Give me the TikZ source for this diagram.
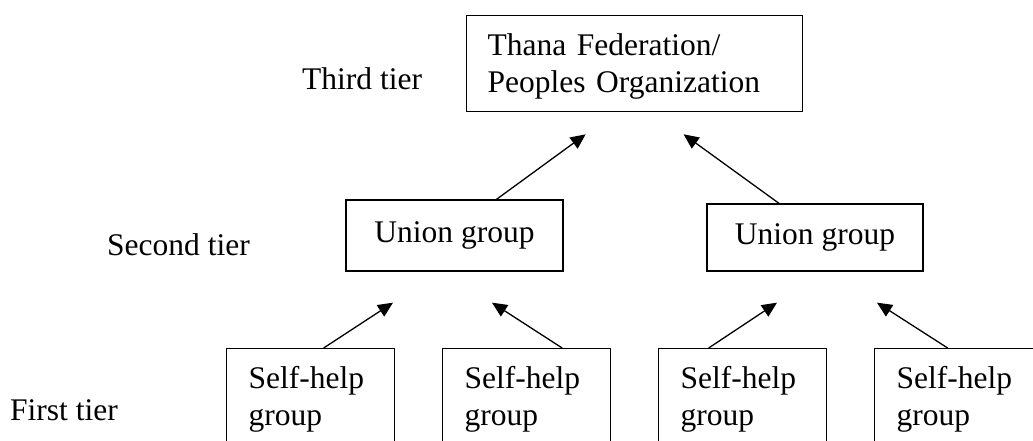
\documentclass[tikz,border=0pt]{standalone}
\usepackage{fontspec}
\setmainfont{Liberation Serif}
\usetikzlibrary{arrows.meta}

\begin{document}
\begin{tikzpicture}[x=1pt, y=-1pt,
		box/.style={draw, line width=1.3pt, inner xsep=21pt, align=left, font=\fontsize{31.5}{37}\selectfont},
		shgroup/.style={box, anchor=north west, text width=124pt, minimum width=168pt, inner xsep=22pt, inner ysep=18pt},
		tier/.style={anchor=base west, inner sep=0pt, font=\fontsize{31.5}{37}\selectfont},
		arr/.style={-{Triangle[length=15pt,width=13.5pt]}, line width=1.3pt}]
		\useasboundingbox (0,0) rectangle (1033,440);
		\clip (0,0) rectangle (1033,440);
		
		% Draw the third tier
		\node (fed) [box, anchor=north west, text width=294pt, minimum height=96pt, text height=27.8pt] at (466,15) {Thana Federation/\\Peoples Organization};
		\node (third) [tier] at (302,89) {Third tier};
		
		% Draw the second tier
		\node (ul) [box, minimum width=217pt, minimum height=71pt] at (454.5,235.5) {Union group};
		\node (ur) [box, minimum width=216pt, minimum height=67pt] at (815,237.5) {Union group};
		\node (second) [tier] at (107,255) {Second tier};
		
		% Draw the first tier
		\node (s1) [shgroup] at (226,348) {Self-help\\group};
		\node (s2) [shgroup] at (442,348) {Self-help\\group};
		\node (s3) [shgroup] at (658,348) {Self-help\\group};
		\node (s4) [shgroup] at (874,348) {Self-help\\group};
		\node (first) [tier] at (10,420) {First tier};
		
		% Connect the tiers with arrows
		\draw[arr] ([xshift=42pt]ul.north) -- ([xshift=-49pt,yshift=-22pt]fed.south);
		\draw[arr] ([xshift=-36pt]ur.north) -- ([xshift=49pt,yshift=-22pt]fed.south);
		\draw[arr] ([xshift=13pt]s1.north) -- ([xshift=-61.5pt,yshift=-31pt]ul.south);
		\draw[arr] ([xshift=35.5pt]s2.north) -- ([xshift=37.5pt,yshift=-31pt]ul.south);
		\draw[arr] ([xshift=-34pt]s3.north) -- ([xshift=-38pt,yshift=-31pt]ur.south);
		\draw[arr] ([xshift=-11pt]s4.north) -- ([xshift=62pt,yshift=-31pt]ur.south);
\end{tikzpicture}
\end{document}
